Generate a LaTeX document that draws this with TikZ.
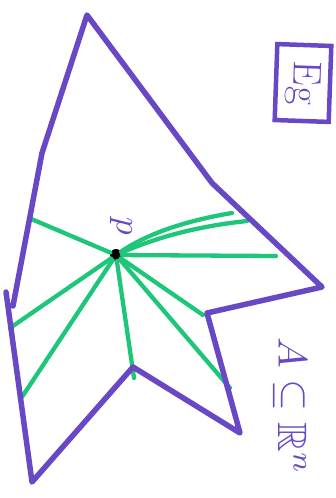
\documentclass[tikz,border=0pt]{standalone}
\usepackage{amsmath, amssymb}
\usepackage{graphicx}
\usepackage{tikz}

\definecolor{markerpurple}{RGB}{104,72,196}
\definecolor{markergreen}{RGB}{30,198,122}

\begin{document}
\begin{tikzpicture}[x=1pt, y=-1pt,
    outline/.style={draw=markerpurple, line width=5.5pt, line join=round, line cap=round},
    ray/.style={draw=markergreen, line width=4.3pt, line cap=round},
    hand text/.style={text=markerpurple, rotate=-90, inner sep=0pt}]
    \useasboundingbox (0,0) rectangle (336,498);

    \coordinate (top) at (87,15);
    \coordinate (kink) at (212,183);
    \coordinate (righttip) at (322,287);
    \coordinate (notch) at (207,313);
    \coordinate (lowertip) at (240,433);
    \coordinate (dip) at (133,367);
    \coordinate (bottom) at (32,482);
    \coordinate (leftlow) at (6,292);
    \coordinate (leftstart) at (13,306);
    \coordinate (leftmid) at (42,153);

    \coordinate (g1) at (29,218);
    \coordinate (g2) at (10,328);
    \coordinate (g3) at (22,397);
    \coordinate (g4) at (134,378);
    \coordinate (g5) at (230,388);
    \coordinate (g6) at (203,315);
    \coordinate (g7) at (276,256);
    \coordinate (g8) at (232,213);
    \coordinate (g9) at (247,221);

    \node[circle, fill=black, inner sep=0pt, minimum size=12pt] (p) at (116,255) {};
    \node[hand text] (plabel) at (121,226) {\scalebox{3.5}{$p$}};

    \draw[ray] (p) -- (g1);
    \draw[ray] (p) -- (g2);
    \draw[ray] (p) -- (g3);
    \draw[ray] (p) -- (g4);
    \draw[ray] (p) -- (g5);
    \draw[ray] (p) -- (g6);
    \draw[ray] (p) -- (g7);
    \draw[ray] (p) .. controls (150,232) and (190,220) .. (g8);
    \draw[ray] (p) .. controls (160,236) and (200,226) .. (g9);

    \draw[outline] (leftlow) -- (bottom) -- (dip) -- (lowertip) -- (notch)
        -- (righttip) -- (kink) -- (top) -- (leftmid) -- (leftstart);

    \node[hand text] (set) at (290,406) {\scalebox{4.1}{$A\subseteq\mathbb{R}^n$}};
    \node[hand text, draw=markerpurple, line width=4.5pt, rotate=-2,
          minimum width=76pt, minimum height=54pt, font=\fontsize{40}{40}\selectfont] (eg) at (303,83) {Eg};
\end{tikzpicture}
\end{document}
